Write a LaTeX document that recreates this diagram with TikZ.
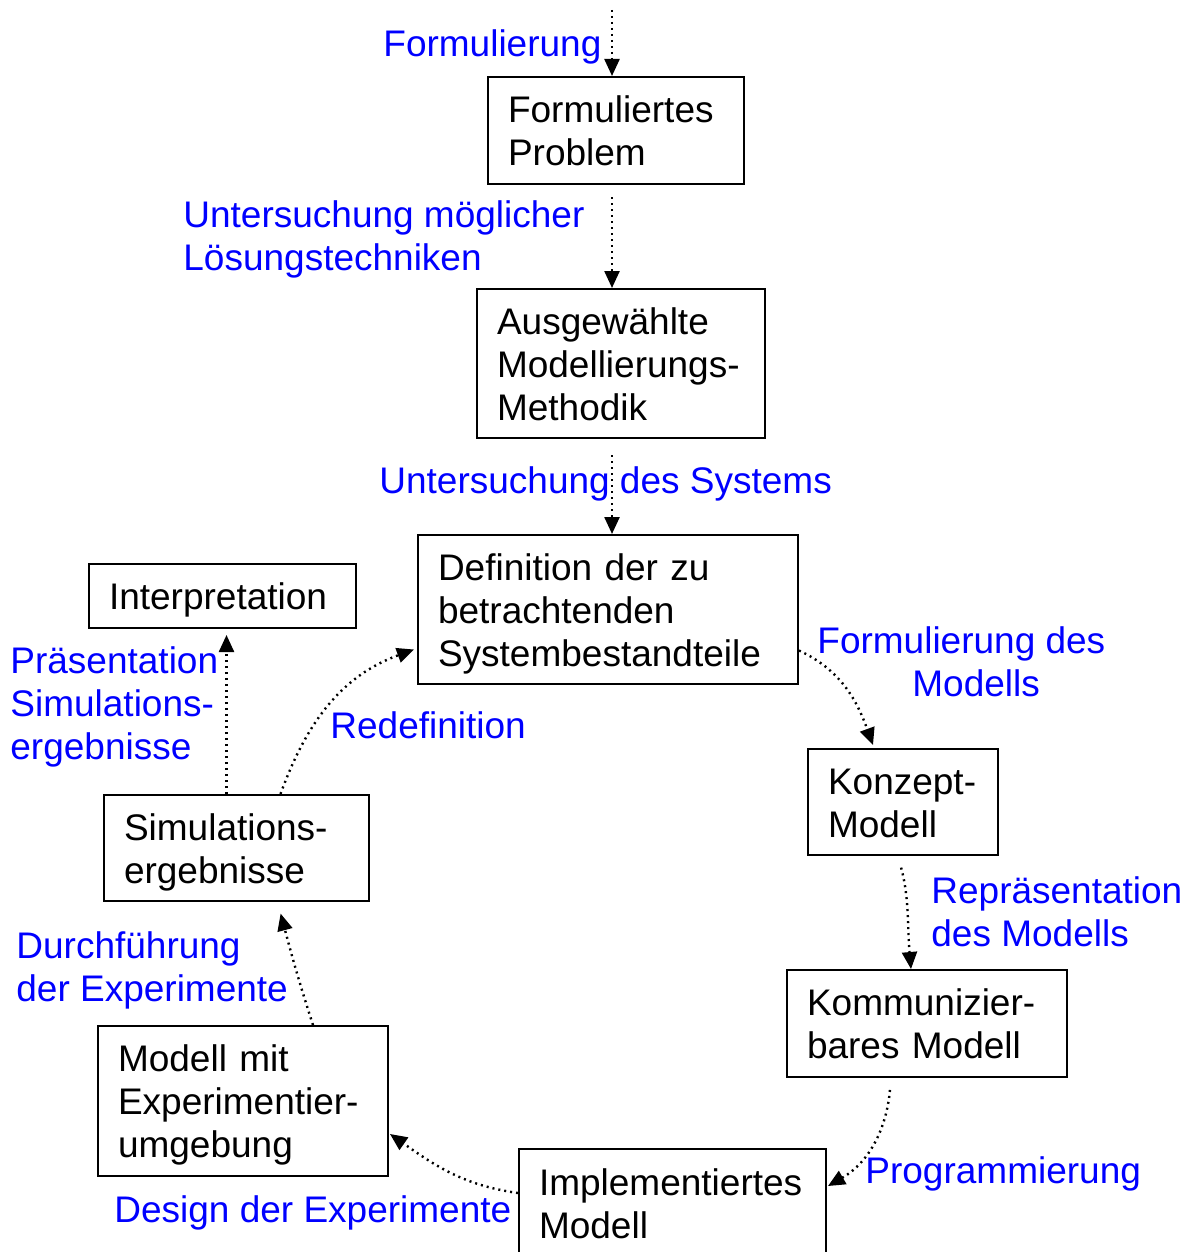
\documentclass[tikz,border=0pt]{standalone}
\usepackage{fontspec}
\setmainfont{Liberation Sans}
\usetikzlibrary{arrows.meta}
\definecolor{lblue}{RGB}{0,0,255}
% line strut: 17.5pt above the baseline, 4pt below
\newcommand\lnstrut{\rule[-4pt]{0pt}{21.5pt}}
\begin{document}
\begin{tikzpicture}[x=0.5pt,y=-0.5pt,
  txt/.style={font=\fontsize{18.5pt}{21.5pt}\selectfont},
  box/.style={txt, draw, line width=1pt, anchor=north west, inner xsep=10pt,
    inner ysep=0pt, align=left},
  lbl/.style={txt, text=lblue, anchor=north west, inner sep=0pt, align=left},
  flow/.style={line width=1.2pt, dash pattern=on 1pt off 2pt,
    -{Triangle[width=7.5pt,length=8.5pt]}}]
\useasboundingbox (0,0) rectangle (1188,1252);

% process states
\node[box, text width=108pt,   minimum height=53.5pt] (b1) at (487,76)
  {\lnstrut Formuliertes\\\lnstrut Problem};
\node[box, text width=124pt,   minimum height=74.5pt] (b2) at (476,288)
  {\lnstrut Ausgewählte\\\lnstrut Modellierungs-\\\lnstrut Methodik};
\node[box, text width=170pt,   minimum height=74.5pt] (b3) at (417,534)
  {\lnstrut Definition der zu\\\lnstrut betrachtenden\\\lnstrut Systembestandteile};
\node[box, text width=75pt,    minimum height=53pt]   (b4) at (807,748)
  {\lnstrut Konzept-\\\lnstrut Modell};
\node[box, text width=120pt,   minimum height=53.5pt] (b5) at (786,969)
  {\lnstrut Kommunizier-\\\lnstrut bares Modell};
\node[box, text width=133.5pt, minimum height=54pt]   (b6) at (518,1148)
  {\lnstrut Implementiertes\\\lnstrut Modell};
\node[box, text width=125pt,   minimum height=75pt]   (b7) at (97,1025)
  {\lnstrut Modell mit\\\lnstrut Experimentier-\\\lnstrut umgebung};
\node[box, text width=112.5pt, minimum height=53pt]   (b8) at (103,794)
  {\lnstrut Simulations-\\\lnstrut ergebnisse};
\node[box, text width=113.5pt, minimum height=32pt]   (b9) at (88,563)
  {\lnstrut Interpretation};

% activity labels (placed by the top of the first line strut)
\node[lbl] (l1) at (383,21)  {\lnstrut Formulierung};
\node[lbl] (l2) at (183,192) {\lnstrut Untersuchung möglicher\\\lnstrut Lösungstechniken};
\node[lbl] (l3) at (379,458) {\lnstrut Untersuchung des Systems};
\node[lbl] (l4) at (817,618) {\lnstrut Formulierung des\\\hspace*{47.5pt}\lnstrut Modells};
\node[lbl] (l5) at (931,868) {\lnstrut Repräsentation\\\lnstrut des Modells};
\node[lbl] (l6) at (865,1148){\lnstrut Programmierung};
\node[lbl] (l7) at (114,1187){\lnstrut Design der Experimente};
\node[lbl] (l8) at (16,923)  {\lnstrut Durchführung\\\lnstrut der Experimente};
\node[lbl] (l9) at (10,638)  {\lnstrut Präsentation\\\lnstrut Simulations-\\\lnstrut ergebnisse};
\node[lbl] (l10) at (330,703){\lnstrut Redefinition};

% entry point of the process; the main axis runs straight down from it
\coordinate (start) at (612,10);

% connectors
\draw[flow] (start) -- (start |- b1.north);
\draw[flow, shorten <=6pt] (start |- b1.south) -- (start |- b2.north);
\draw[flow, shorten <=8pt] (start |- b2.south) -- (start |- b3.north);
\draw[flow] ([yshift=-20.5pt]b3.east) to[out=-25,in=110] ([xshift=-15pt,yshift=1.5pt]b4.north);
\draw[flow, shorten <=6pt] ([xshift=-2.5pt]b4.south) to[out=-75,in=95] ([xshift=-8pt]b5.north);
\draw[flow, shorten <=6pt] ([xshift=-18pt]b5.south) to[out=-95,in=30] ([xshift=0.5pt,yshift=8.5pt]b6.east);
\draw[flow] ([yshift=5pt]b6.west) to[out=172,in=-35] ([xshift=0.5pt,yshift=-16.5pt]b7.east);
\draw[flow, shorten >=6pt] ([xshift=35pt]b7.north) to[out=108,in=-75] ([xshift=20.5pt]b8.south);
\draw[flow, shorten >=3pt] ([xshift=-5pt]b8.north) -- ([xshift=-5pt]b8.north |- b9.south);
\draw[flow] ([xshift=22pt]b8.north) to[out=70,in=200] ([xshift=-1.5pt,yshift=-20pt]b3.west);
\end{tikzpicture}
\end{document}
